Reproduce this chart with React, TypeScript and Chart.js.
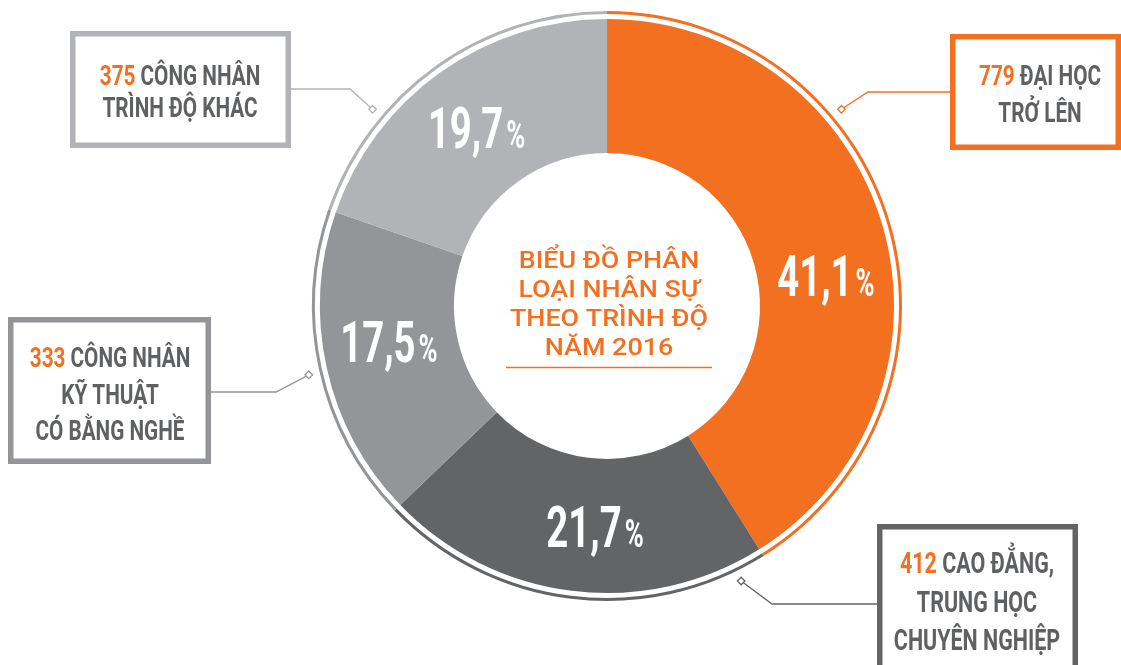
import React, { useEffect, useRef } from "react";
import { Chart, registerables } from "chart.js";

Chart.register(...registerables);

// ---- data ----
const categories = [
  "Đại học trở lên",
  "Cao đẳng, trung học chuyên nghiệp",
  "Công nhân kỹ thuật có bằng nghề",
  "Công nhân trình độ khác",
];
const percentValues = [41.1, 21.7, 17.5, 19.7];
const percentLabels = ["41,1", "21,7", "17,5", "19,7"];
const headcounts = ["779", "412", "333", "375"];
const calloutLines = [
  ["ĐẠI HỌC", "TRỞ LÊN"],
  ["CAO ĐẲNG,", "TRUNG HỌC", "CHUYÊN NGHIỆP"],
  ["CÔNG NHÂN", "KỸ THUẬT", "CÓ BẰNG NGHỀ"],
  ["CÔNG NHÂN", "TRÌNH ĐỘ KHÁC"],
];
const centerTitle = ["BIỂU ĐỒ PHÂN", "LOẠI NHÂN SỰ", "THEO TRÌNH ĐỘ", "NĂM 2016"];

const ORANGE = "#F37021";
const DARK = "#636466";
const MID = "#939598";
const LIGHT = "#B1B3B6";
const segColors = [ORANGE, DARK, MID, LIGHT];
const TEXT_GRAY = "#5f6062";

function drawScaled(ctx: CanvasRenderingContext2D, text: string, x: number, y: number, font: string, sx: number, color: string) {
  ctx.save();
  ctx.font = font;
  ctx.fillStyle = color;
  ctx.textAlign = "left";
  ctx.textBaseline = "alphabetic";
  ctx.translate(x, y);
  ctx.scale(sx, 1);
  ctx.fillText(text, 0, 0);
  ctx.restore();
}
function measureScaled(ctx: CanvasRenderingContext2D, text: string, font: string, sx: number) {
  ctx.save();
  ctx.font = font;
  const w = ctx.measureText(text).width * sx;
  ctx.restore();
  return w;
}

// layout of callouts (annotation geometry)
const callouts = [
  { seg: 0, angleDeg: 50, elbow: [868, 92], end: [950, 92], box: [950, 34, 1121, 150], cx: 1040, base: 85, step: 37, size: 28 },
  { seg: 1, angleDeg: 154, elbow: [772, 604], end: [877, 604], box: [877, 524, 1078, 720], cx: 977, base: 573, step: 38.5, size: 29 },
  { seg: 2, angleDeg: 257, elbow: [276, 392], end: [211, 392], box: [8, 317, 211, 464], cx: 110, base: 367, step: 36.5, size: 28 },
  { seg: 3, angleDeg: 310, elbow: [350, 89], end: [291, 89], box: [70, 31, 291, 148], cx: 180, base: 85, step: 32, size: 28 },
];
const labelFractions = [0.555, 0.45, 0.55, 0.49];

const annotationPlugin = {
  id: "infographic",
  afterDraw(chart: any) {
    const ctx: CanvasRenderingContext2D = chart.ctx;
    const main = chart.getDatasetMeta(2).data;
    const outer = chart.getDatasetMeta(0).data;
    if (!main.length) return;
    const cx = main[0].x;
    const cy = main[0].y;

    // percentage labels
    main.forEach((arc: any, i: number) => {
      const a = arc.startAngle + (arc.endAngle - arc.startAngle) * labelFractions[i];
      const r = 221;
      const lx = cx + r * Math.cos(a);
      const ly = cy + r * Math.sin(a);
      const bigFont = "bold 58px Roboto";
      const smallFont = "bold 39px Roboto";
      const sx = 0.66;
      const w1 = measureScaled(ctx, percentLabels[i], bigFont, sx);
      const w2 = measureScaled(ctx, "%", smallFont, sx);
      const gap = 3;
      const total = w1 + gap + w2;
      const x0 = lx - total / 2;
      const base = ly + 20;
      drawScaled(ctx, percentLabels[i], x0, base, bigFont, sx, "#ffffff");
      drawScaled(ctx, "%", x0 + w1 + gap, base, smallFont, sx, "#ffffff");
    });

    // center title
    const titleFont = "500 24px Roboto";
    const tsx = 1.12;
    centerTitle.forEach((line, i) => {
      const w = measureScaled(ctx, line, titleFont, tsx);
      drawScaled(ctx, line, cx + 2 - w / 2, 268 + i * 29, titleFont, tsx, ORANGE);
    });
    ctx.save();
    ctx.strokeStyle = ORANGE;
    ctx.lineWidth = 1.5;
    ctx.beginPath();
    ctx.moveTo(506, 367.5);
    ctx.lineTo(712, 367.5);
    ctx.stroke();
    ctx.restore();

    // callouts
    const ringR = outer[0].outerRadius + 11;
    callouts.forEach((c) => {
      const color = segColors[c.seg];
      const a = ((c.angleDeg - 90) * Math.PI) / 180;
      const dx = cx + ringR * Math.cos(a);
      const dy = cy + ringR * Math.sin(a);
      ctx.save();
      ctx.strokeStyle = color;
      ctx.lineWidth = 1.3;
      ctx.beginPath();
      ctx.moveTo(dx, dy);
      ctx.lineTo(c.elbow[0], c.elbow[1]);
      ctx.lineTo(c.end[0], c.end[1]);
      ctx.stroke();
      // diamond
      ctx.fillStyle = "#ffffff";
      ctx.beginPath();
      const h = 3.8;
      ctx.moveTo(dx, dy - h);
      ctx.lineTo(dx + h, dy);
      ctx.lineTo(dx, dy + h);
      ctx.lineTo(dx - h, dy);
      ctx.closePath();
      ctx.fill();
      ctx.stroke();
      // box
      const [x1, y1, x2, y2] = c.box;
      ctx.fillStyle = "#ffffff";
      ctx.fillRect(x1, y1, x2 - x1, y2 - y1);
      ctx.lineWidth = 5.5;
      ctx.strokeRect(x1 + 2.75, y1 + 2.75, x2 - x1 - 5.5, y2 - y1 - 5.5);
      ctx.restore();

      // text
      const font = `bold ${c.size}px Roboto`;
      const sx = 0.74;
      const lines = calloutLines[c.seg];
      lines.forEach((line, li) => {
        const y = c.base + li * c.step;
        if (li === 0) {
          const num = headcounts[c.seg];
          const wn = measureScaled(ctx, num, font, sx);
          const ws = measureScaled(ctx, " ", font, sx);
          const wt = measureScaled(ctx, line, font, sx);
          const total = wn + ws + wt;
          const x0 = c.cx - total / 2;
          drawScaled(ctx, num, x0, y, font, sx, ORANGE);
          drawScaled(ctx, line, x0 + wn + ws, y, font, sx, TEXT_GRAY);
        } else {
          const wt = measureScaled(ctx, line, font, sx);
          drawScaled(ctx, line, c.cx - wt / 2, y, font, sx, TEXT_GRAY);
        }
      });
    });
  },
};

export default function App() {
  const canvasRef = useRef<HTMLCanvasElement | null>(null);

  useEffect(() => {
    document.body.style.margin = "0";
    const canvas = canvasRef.current;
    if (!canvas) return;
    const chart = new Chart(canvas, {
      type: "doughnut",
      data: {
        labels: categories,
        datasets: [
          { data: percentValues, backgroundColor: segColors, borderWidth: 0, weight: 3, hoverOffset: 0, offset: 0 } as any,
          { data: percentValues, backgroundColor: "rgba(0,0,0,0)", borderWidth: 0, weight: 5, hoverOffset: 0, offset: 0 } as any,
          { data: percentValues, backgroundColor: segColors, borderWidth: 0, weight: 134, hoverOffset: 0, offset: 0 } as any,
        ],
      },
      options: {
        responsive: false,
        maintainAspectRatio: false,
        devicePixelRatio: 1,
        animation: false,
        cutout: 153,
        layout: { padding: { left: 312, right: 219, top: 11, bottom: 64 } },
        plugins: {
          legend: { display: false },
          tooltip: { enabled: false },
        },
        events: [],
      } as any,
      plugins: [annotationPlugin],
    });
    let alive = true;
    if ((document as any).fonts) {
      Promise.all([
        (document as any).fonts.load("bold 20px Roboto"),
        (document as any).fonts.load("500 20px Roboto"),
      ]).then(() => {
        if (alive) chart.draw();
      }).catch(() => {});
    }
    return () => {
      alive = false;
      chart.destroy();
    };
  }, []);

  return (
    <div style={{ position: "absolute", left: 0, top: 0, width: 1121, height: 665, background: "#ffffff" }}>
      <canvas ref={canvasRef} width={1121} height={665} style={{ display: "block", width: 1121, height: 665 }} />
    </div>
  );
}
